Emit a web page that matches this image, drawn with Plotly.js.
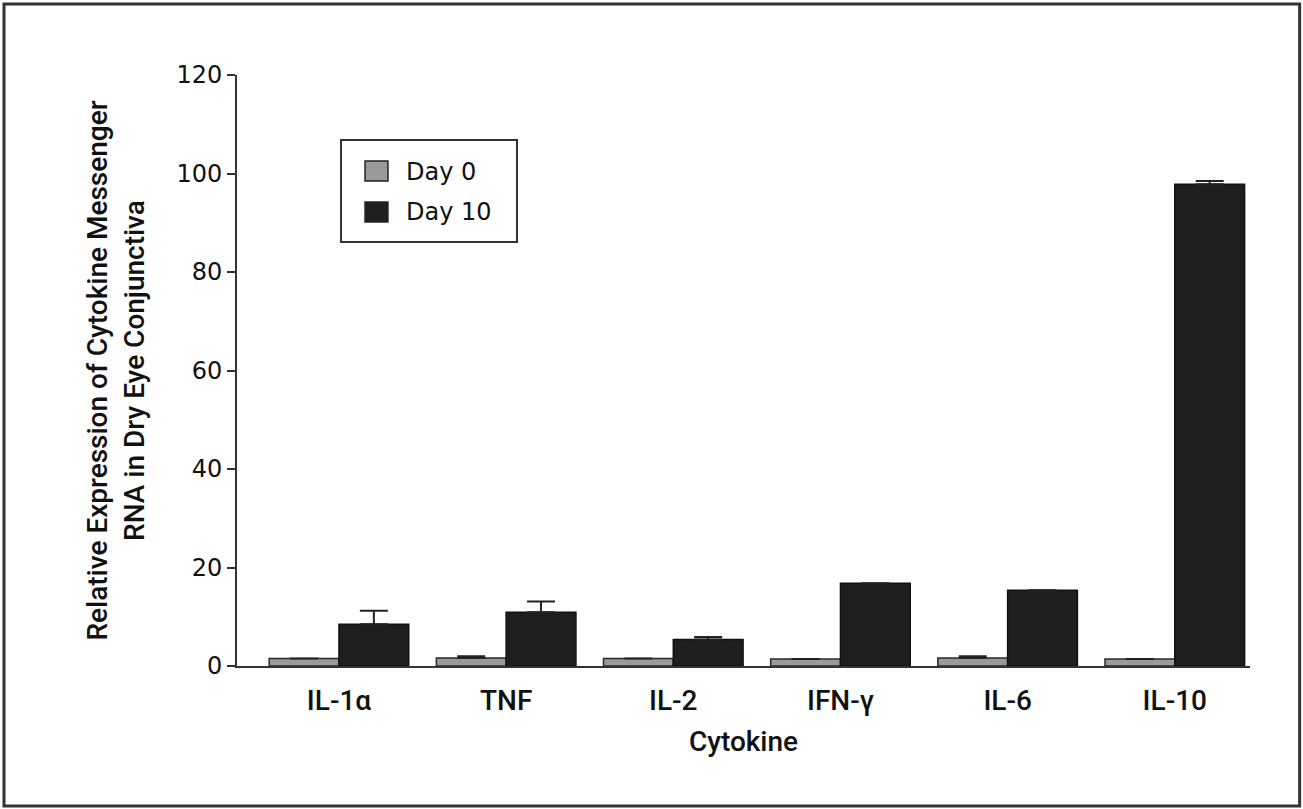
<!DOCTYPE html>
<html>
<head>
<meta charset="utf-8">
<script src="https://cdn.plot.ly/plotly-3.0.1.min.js"></script>
<style>html,body{margin:0;padding:0;background:#fff;}#chart{width:1303px;height:809px;}</style>
</head>
<body>
<div id="chart"></div>
<script>
const categories = ["IL-1\u03b1", "TNF", "IL-2", "IFN-\u03b3", "IL-6", "IL-10"];
const day0Values = [1.5, 1.6, 1.5, 1.4, 1.6, 1.4];
const day0Errors = [0, 0.4, 0, 0, 0.4, 0];
const day10Values = [8.5, 10.9, 5.4, 16.8, 15.4, 97.8];
const day10Errors = [2.7, 2.2, 0.5, 0, 0, 0.7];
const seriesNames = ["Day 0", "Day 10"];
const seriesColors = ["#9a9a9a", "#1e1e1e"];

const titleFont = 'Roboto, "Liberation Sans", Arial, sans-serif';
const numFont = '"DejaVu Sans", Arial, sans-serif';

const traces = [
  {
    type: 'bar', name: seriesNames[0], x: categories, y: day0Values,
    marker: {color: seriesColors[0], line: {color: '#2a2a2a', width: 1.5}},
    error_y: {type: 'data', symmetric: false, array: day0Errors, arrayminus: day0Errors.map(() => 0), color: '#222', thickness: 2, width: 14, visible: true}
  },
  {
    type: 'bar', name: seriesNames[1], x: categories, y: day10Values,
    marker: {color: seriesColors[1], line: {color: '#111', width: 1.5}},
    error_y: {type: 'data', symmetric: false, array: day10Errors, arrayminus: day10Errors.map(() => 0), color: '#222', thickness: 2, width: 14, visible: true}
  }
];

// Legend drawn as box + swatches + labels (paper coordinates)
const legendBox = {x0: 0.1027, x1: 0.2764, y0: 0.7174, y1: 0.890};
const swatchX = [0.1264, 0.149];
const swatchY = [[0.8206, 0.8545], [0.7513, 0.7851]];
const labelY = [0.836, 0.768];

const shapes = [
  {type: 'rect', xref: 'paper', yref: 'paper', x0: -0.23, x1: 1.049, y0: -0.237, y1: 1.12,
   line: {color: '#333', width: 3}, fillcolor: 'rgba(0,0,0,0)'},
  {type: 'rect', xref: 'paper', yref: 'paper', x0: legendBox.x0, x1: legendBox.x1, y0: legendBox.y0, y1: legendBox.y1,
   line: {color: '#333', width: 2}, fillcolor: '#fff'}
];
const annotations = [];
seriesNames.forEach((name, i) => {
  shapes.push({type: 'rect', xref: 'paper', yref: 'paper', x0: swatchX[0], x1: swatchX[1], y0: swatchY[i][0], y1: swatchY[i][1],
    line: {color: '#222', width: 1.5}, fillcolor: seriesColors[i]});
  annotations.push({xref: 'paper', yref: 'paper', x: 0.1649, y: labelY[i], xanchor: 'left', yanchor: 'middle',
    text: name, showarrow: false, font: {family: numFont, size: 24, color: '#111'}});
});

const layout = {
  width: 1303, height: 809,
  margin: {l: 237, r: 53, t: 75, b: 143},
  paper_bgcolor: '#fff', plot_bgcolor: '#fff',
  barmode: 'group', bargap: 0.165, bargroupgap: 0,
  showlegend: false,
  xaxis: {
    type: 'category', range: [-0.61, 5.45],
    showline: true, linecolor: '#333', linewidth: 2,
    ticks: '', showgrid: false, zeroline: false,
    ticklabelstandoff: 8,
    tickfont: {family: titleFont, size: 28, color: '#111', weight: 500},
    title: {text: 'Cytokine', font: {family: titleFont, size: 28, color: '#111', weight: 500}, standoff: 16}
  },
  yaxis: {
    range: [0, 120], tickvals: [0, 20, 40, 60, 80, 100, 120],
    showline: true, linecolor: '#333', linewidth: 2,
    ticks: 'outside', ticklen: 8, tickwidth: 2, tickcolor: '#333',
    showgrid: false, zeroline: false,
    tickfont: {family: numFont, size: 24, color: '#111'},
    title: {text: 'Relative Expression of Cytokine Messenger<br>RNA in Dry Eye Conjunctiva', font: {family: titleFont, size: 28, color: '#111', weight: 500}, standoff: 24}
  },
  shapes: shapes,
  annotations: annotations
};

Plotly.newPlot('chart', traces, layout, {displayModeBar: false, staticPlot: true});
</script>
</body>
</html>
